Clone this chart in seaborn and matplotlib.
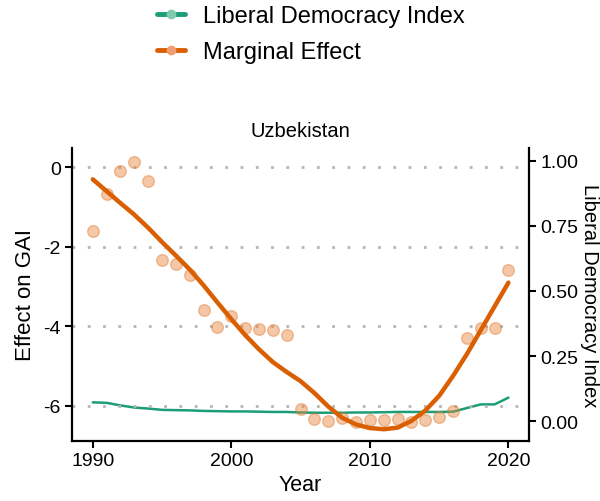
import numpy as np
import pandas as pd
import matplotlib
matplotlib.use("Agg")
import matplotlib.pyplot as plt
from matplotlib.lines import Line2D
import seaborn as sns

years = list(range(1990, 2021))
effect_points = [-1.61, -0.68, -0.08, 0.14, -0.35, -2.32, -2.42, -2.70, -3.60, -4.02,
                 -3.73, -4.03, -4.07, -4.09, -4.22, -6.09, -6.33, -6.38, -6.30, -6.40,
                 -6.36, -6.35, -6.33, -6.41, -6.35, -6.28, -6.14, -4.30, -4.05, -4.03,
                 -2.59]
effect_smooth = [-0.30, -0.60, -0.90, -1.19, -1.52, -1.88, -2.22, -2.57, -2.97, -3.40,
                 -3.82, -4.22, -4.58, -4.90, -5.15, -5.38, -5.68, -6.02, -6.30, -6.47,
                 -6.56, -6.59, -6.55, -6.38, -6.12, -5.75, -5.25, -4.70, -4.10, -3.50,
                 -2.90]
ldi = [0.072, 0.070, 0.060, 0.052, 0.048, 0.043, 0.042, 0.041, 0.039, 0.038,
       0.037, 0.037, 0.036, 0.035, 0.035, 0.033, 0.032, 0.032, 0.032, 0.033,
       0.033, 0.034, 0.035, 0.035, 0.035, 0.035, 0.036, 0.050, 0.064, 0.064,
       0.090]
left_ticks = [0, -2, -4, -6]
right_ticks = [0.0, 0.25, 0.5, 0.75, 1.0]
x_ticks = [1990, 2000, 2010, 2020]
title = "Uzbekistan"
legend_labels = ["Liberal Democracy Index", "Marginal Effect"]

green = "#1b9e77"
orange = "#d95f02"

df = pd.DataFrame({"year": years, "pts": effect_points, "smooth": effect_smooth, "ldi": ldi})

sns.set_style("white")
plt.rcParams["font.family"] = ["Liberation Sans", "DejaVu Sans"]
plt.rcParams["text.color"] = "black"
plt.rcParams["axes.labelcolor"] = "black"

fig = plt.figure(figsize=(6.0, 5.02), dpi=100)
ax = fig.add_axes([0.12, 0.120, 0.762, 0.583])
ax2 = ax.twinx()

for t in left_ticks:
    ax.axhline(t, color="#b5b5b5", linestyle=(0, (1, 4.5)), linewidth=2.0, zorder=0)

sns.scatterplot(data=df, x="year", y="pts", ax=ax, color="#e8833a", alpha=0.45,
                s=70, edgecolor="#e07a30", linewidth=1.0, zorder=2, legend=False)
sns.lineplot(data=df, x="year", y="smooth", ax=ax, color=orange, linewidth=3.2,
             zorder=3, legend=False)
sns.lineplot(data=df, x="year", y="ldi", ax=ax2, color=green, linewidth=1.8,
             zorder=3, legend=False)

ax.set_xlim(1988.5, 2021.5)
ax.set_ylim(-6.88, 0.486)
ax2.set_ylim(-0.0757, 1.049)
ax.set_xticks(x_ticks)
ax.set_yticks(left_ticks)
ax.set_yticklabels([str(t) for t in left_ticks])
ax2.set_yticks(right_ticks)
ax2.set_yticklabels([f"{t:.2f}" for t in right_ticks])

ax.set_zorder(ax2.get_zorder() + 1)
ax.patch.set_visible(False)

for a in (ax, ax2):
    for s in a.spines.values():
        s.set_visible(False)
    a.tick_params(direction="out", length=5, width=1.5, color="black",
                  labelsize=14, labelcolor="black", pad=3)
ax.spines["left"].set_visible(True)
ax.spines["bottom"].set_visible(True)
ax2.spines["right"].set_visible(True)
for s in (ax.spines["left"], ax.spines["bottom"], ax2.spines["right"]):
    s.set_linewidth(1.6)
    s.set_color("black")
ax.tick_params(left=True, bottom=True)
ax2.tick_params(right=True)

ax.set_xlabel("Year", fontsize=15.5, labelpad=4)
ax.set_ylabel("Effect on GAI", fontsize=16, labelpad=5)
ax2.set_ylabel("Liberal Democracy Index", fontsize=14.5, rotation=-90)
ax2.yaxis.set_label_coords((589.0 - 72.0) / 457.2, 0.5)
ax2.yaxis.label.set_horizontalalignment("center")
ax2.yaxis.label.set_verticalalignment("center")
ax.set_title(title, fontsize=14.5, pad=9)

handles = [
    Line2D([0], [0], color=green, linewidth=3.5, marker="o", markersize=6,
           markerfacecolor="#7fcbb0", markeredgecolor="#7fcbb0"),
    Line2D([0], [0], color=orange, linewidth=3.5, marker="o", markersize=6,
           markerfacecolor="#f0a070", markeredgecolor="#f0a070"),
]
fig.legend(handles, legend_labels, loc="upper left", bbox_to_anchor=(0.258, 0.993),
           frameon=False, fontsize=17, handlelength=1.2, handletextpad=0.75,
           labelspacing=0.6, borderpad=0.1, borderaxespad=0)

fig.savefig("out.png", dpi=100)
